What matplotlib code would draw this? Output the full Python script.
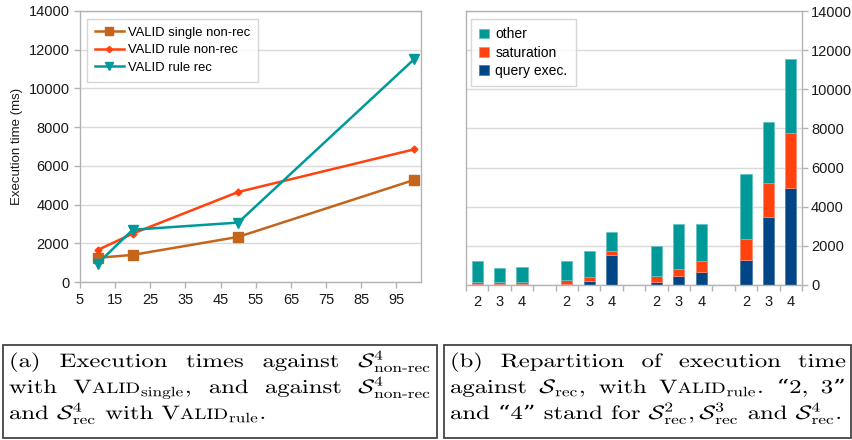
import matplotlib
matplotlib.use("Agg")
import matplotlib.pyplot as plt
import numpy as np
from matplotlib.patches import Rectangle, PathPatch
from matplotlib.textpath import TextPath
from matplotlib.font_manager import FontProperties
from matplotlib.transforms import Affine2D

plt.rcParams['font.family'] = ['Liberation Sans', 'DejaVu Sans']
plt.rcParams['mathtext.fontset'] = 'cm'

# ---- data: left chart (execution times) ----
sizes = [10, 20, 50, 100]
single_nonrec = [1250, 1400, 2330, 5270]
rule_nonrec = [1650, 2500, 4650, 6850]
rule_rec = [950, 2700, 3070, 11500]

# ---- data: right chart (repartition), None = empty slot between groups ----
bar_labels = ['2', '3', '4', '', '2', '3', '4', '', '2', '3', '4', '', '2', '3', '4']
query_exec = [40, 40, 50, None, 70, 200, 1510, None, 170, 475, 665, None, 1290, 3470, 4970]
saturation = [100, 90, 90, None, 185, 190, 225, None, 290, 355, 545, None, 1060, 1720, 2820]
other = [1100, 740, 780, None, 970, 1330, 965, None, 1530, 2280, 1885, None, 3330, 3160, 3760]

TEAL = '#009999'
RED = '#ff420e'
NAVY = '#004586'
BROWN = '#c5651c'
GRID = '#dadada'
SPINE = '#b3b3b3'
TXT = '#1a1a1a'

W, H = 853, 440
fig = plt.figure(figsize=(W / 100, H / 100), dpi=100)


def box(l, t, r, b):
    return [l / W, 1 - b / H, (r - l) / W, (b - t) / H]


def style_axes(ax):
    for s in ax.spines.values():
        s.set_color(SPINE)
        s.set_linewidth(1.0)
    ax.grid(axis='y', color=GRID, linewidth=1.0)
    ax.set_axisbelow(True)
    ax.tick_params(colors=SPINE, labelcolor=TXT, labelsize=10.5, length=4.5, width=1)


# left chart
ax1 = fig.add_axes(box(80, 11, 421, 282))
style_axes(ax1)
ax1.plot(sizes, single_nonrec, color=BROWN, lw=1.8, marker='s', ms=6.5, label='VALID single non-rec')
ax1.plot(sizes, rule_nonrec, color=RED, lw=1.8, marker='D', ms=3.5, label='VALID rule non-rec')
ax1.plot(sizes, rule_rec, color=TEAL, lw=1.8, marker='v', ms=6.5, label='VALID rule rec')
ax1.set_xlim(5, 102)
ax1.set_ylim(0, 14000)
ax1.set_xticks(range(5, 100, 10))
ax1.set_yticks(range(0, 14001, 2000))
ax1.tick_params(axis='y', pad=3)
ax1.set_ylabel('Execution time (ms)', fontsize=9.5, color=TXT, labelpad=4)
leg1 = ax1.legend(loc='upper left', fontsize=9.4, handlelength=2.2, handletextpad=0.35, frameon=True,
                  fancybox=False, bbox_to_anchor=(7 / 341, 1 - 8 / 271), borderaxespad=0,
                  borderpad=0.6, labelspacing=0.4, markerscale=0.9)
leg1.get_frame().set_edgecolor('#cccccc')
leg1.get_frame().set_linewidth(1.0)

# right chart
ax2 = fig.add_axes(box(466, 11, 802, 285))
style_axes(ax2)
x = np.arange(len(bar_labels))
valid = [i for i, v in enumerate(query_exec) if v is not None]
q = np.array([query_exec[i] for i in valid], float)
s = np.array([saturation[i] for i in valid], float)
o = np.array([other[i] for i in valid], float)
xv = x[valid]
ax2.bar(xv, q, width=0.5, color=NAVY, edgecolor='#4d7eaa', lw=0.6, label='query exec.')
ax2.bar(xv, s, width=0.5, bottom=q, color=RED, edgecolor='#ff8a6e', lw=0.6, label='saturation')
ax2.bar(xv, o, width=0.5, bottom=q + s, color=TEAL, edgecolor='#66c2c2', lw=0.6, label='other')
ax2.set_xlim(-0.5, len(bar_labels) - 0.5)
ax2.set_ylim(0, 14000)
ax2.set_yticks(range(0, 14001, 2000))
ax2.yaxis.tick_right()
ax2.tick_params(axis='y', pad=2)
ax2.set_xticks(np.arange(-0.5, len(bar_labels), 1.0))
ax2.set_xticklabels([])
ax2.set_xticks(xv, [bar_labels[i] for i in valid], minor=True)
ax2.tick_params(axis='x', which='minor', length=0, labelsize=10.5, labelcolor=TXT, pad=7)
h, l = ax2.get_legend_handles_labels()
leg2 = ax2.legend(h[::-1], l[::-1], loc='upper left', fontsize=10, handlelength=0.7, handleheight=0.7,
                  frameon=True, fancybox=False, bbox_to_anchor=(5 / 336, 1 - 8 / 274), borderaxespad=0,
                  borderpad=0.6, labelspacing=0.3, handletextpad=0.45)
leg2.get_frame().set_edgecolor('#cccccc')
leg2.get_frame().set_linewidth(1.0)

# ---- captions (justified, small caps, slightly stretched like the reference) ----
CAP_FS = 14.0            # pt
SX = 1.27                # horizontal stretch
SERIF = ['cmr10', 'DejaVu Serif']
PROP = FontProperties(family=SERIF)
renderer = fig.canvas.get_renderer()


def valid_word(sub, tail):
    return [('V', 1.0), ('ALID', 0.78), (r'$_{\mathrm{' + sub + '}}$' + tail, 1.0)]


def measure(pieces):
    ws = []
    for txt, sc in pieces:
        t = fig.text(0, 0, txt, fontsize=CAP_FS * sc, family=SERIF)
        ws.append(t.get_window_extent(renderer).width * SX)
        t.remove()
    return ws


def put(txt, sc, xpx, ytop):
    size_px = CAP_FS * sc * 100 / 72
    path = TextPath((0, 0), txt, size=size_px, prop=PROP)
    tr = Affine2D().scale(SX, 1.0).translate(xpx, H - ytop)
    fig.add_artist(PathPatch(path, transform=tr, facecolor='black', edgecolor='none', lw=0))


def draw_line(words, left, right, baseline, justify):
    widths = [measure(w) for w in words]
    total = sum(sum(w) for w in widths)
    if justify and len(words) > 1:
        gap = (right - left - total) / (len(words) - 1)
    else:
        gap = CAP_FS * 100 / 72 * 0.33 * SX
    xpos = left
    for w, ws in zip(words, widths):
        for (txt, sc), pw in zip(w, ws):
            put(txt, sc, xpos, baseline)
            xpos += pw
        xpos += gap


def plain(text):
    return [[(w, 1.0)] for w in text.split(' ')]


S4_nonrec = r'$\mathcal{S}^4_{\mathrm{non\text{-}rec}}$'
cap_a = [
    plain('(a) Execution times against') + [[(S4_nonrec, 1.0)]],
    [[('with', 1.0)], valid_word('single', ','), [('and', 1.0)], [('against', 1.0)], [(S4_nonrec, 1.0)]],
    [[('and', 1.0)], [(r'$\mathcal{S}^4_{\mathrm{rec}}$', 1.0)], [('with', 1.0)], valid_word('rule', '.')],
]
cap_b = [
    plain('(b) Repartition of execution time'),
    [[('against', 1.0)], [(r'$\mathcal{S}_{\mathrm{rec}}$,', 1.0)], [('with', 1.0)],
     valid_word('rule', '.'), [('\u201c2,', 1.0)], [('3\u201d', 1.0)]],
    [[('and', 1.0)], [('\u201c4\u201d', 1.0)], [('stand', 1.0)], [('for', 1.0)],
     [(r'$\mathcal{S}^2_{\mathrm{rec}},\mathcal{S}^3_{\mathrm{rec}}$', 1.0)], [('and', 1.0)],
     [(r'$\mathcal{S}^4_{\mathrm{rec}}$.', 1.0)]],
]

baselines = [367, 393, 419]
for caption, (bl, br) in [(cap_a, (3, 437)), (cap_b, (444, 851))]:
    fig.patches.append(Rectangle((bl / W, 1 - 438 / H), (br - bl) / W, (438 - 345) / H,
                                 transform=fig.transFigure, fill=False, edgecolor='#444444', lw=1.3))
    for i, line in enumerate(caption):
        draw_line(line, bl + 6, br - 5, baselines[i], justify=(i < 2))

fig.savefig('out.png', dpi=100)
